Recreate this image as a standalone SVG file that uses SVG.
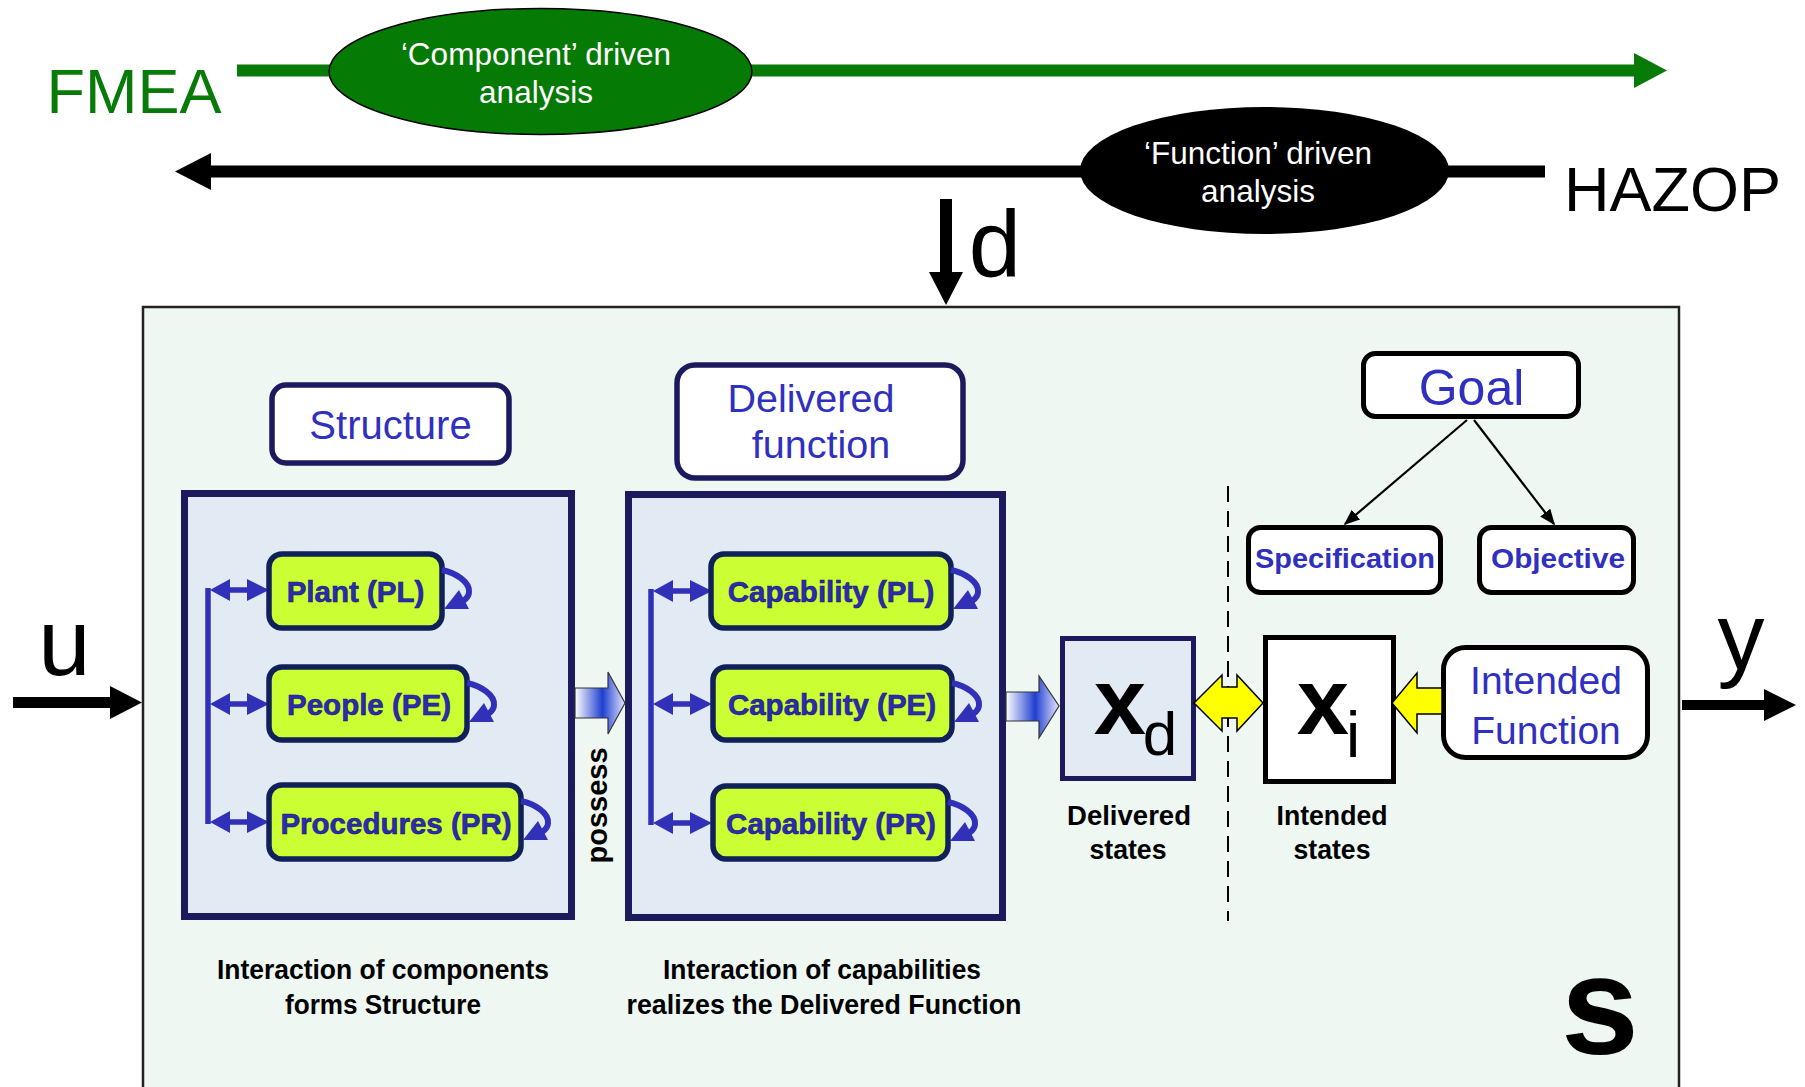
<svg xmlns="http://www.w3.org/2000/svg" xmlns:xlink="http://www.w3.org/1999/xlink" width="1805" height="1087" viewBox="0 0 1805 1087">
  <style>
    text { font-family: "Liberation Sans", Arial, sans-serif; }
    .big { font-size: 63px; }
    .ell { font-size: 31.5px; fill: #ffffff; text-anchor: middle; }
    .var { font-size: 94px; fill: #000; text-anchor: middle; }
    .panel { fill: #e2eaf3; stroke: #1b1a5c; stroke-width: 7; }
    .label { fill: #ffffff; stroke: #1b1a5c; stroke-width: 5.5; }
    .blk { fill: #ffffff; stroke: #000; stroke-width: 5; }
    .lbl { fill: #3030c0; text-anchor: middle; }
    .cmp { fill: #ccff33; stroke: #10205a; stroke-width: 5.5; }
    .cmpt { font-size: 29.5px; font-weight: bold; fill: #2b2bb0; stroke: #1a1a70; stroke-width: 0.6; text-anchor: middle; }
    .note { font-size: 28px; font-weight: bold; fill: #000; text-anchor: middle; }
    .brk { stroke: #3030b8; stroke-width: 5.5; fill: none; }
    .grad { fill: url(#blueFade); stroke: #333; stroke-width: 1.2; }
    .yel { fill: #ffff00; stroke: #000; stroke-width: 1.5; }
    .thin { stroke: #000; stroke-width: 2.2; fill: none; }
  </style>
  <defs>
    <linearGradient id="blueFade" x1="0" y1="0" x2="1" y2="0">
      <stop offset="0" stop-color="#ffffff"/>
      <stop offset="0.55" stop-color="#1f3fd0"/>
      <stop offset="1" stop-color="#e6e6ff"/>
    </linearGradient>
    <marker id="tipS" viewBox="0 0 10 10" refX="9" refY="5" markerWidth="16" markerHeight="16" orient="auto" markerUnits="userSpaceOnUse">
      <path d="M0 1 L10 5 L0 9 z" fill="#000"/>
    </marker>
    <!-- self-interaction loop, origin at a box's top-right corner -->
    <g id="loop">
      <path d="M0 16 C 14 19, 28 28, 27 38 C 27 42, 24 45, 21 47" stroke="#3030b8" stroke-width="6" fill="none"/>
      <polygon points="2,55 27,55 17,36" fill="#3030b8"/>
    </g>
    <!-- bracket double arrow, from x=0 (bracket) to x=59 -->
    <g id="dbl59">
      <line x1="8" y1="0" x2="50" y2="0" stroke="#3030b8" stroke-width="5.5"/>
      <polygon points="0,0 20,-11 20,11" fill="#3030b8"/>
      <polygon points="59,0 37,-11 37,11" fill="#3030b8"/>
    </g>
  </defs>

  <!-- analysis directions -->
  <g id="fmea">
    <line x1="237" y1="70.5" x2="1636" y2="70.5" stroke="#077a07" stroke-width="12"/>
    <polygon points="1634,53 1667,70.5 1634,88" fill="#077a07"/>
    <text class="big" x="134" y="113" fill="#077a07" text-anchor="middle">FMEA</text>
    <ellipse cx="540.5" cy="71.5" rx="211.5" ry="63" fill="#057a05" stroke="#000" stroke-width="1.5"/>
    <text class="ell" x="536" y="64.5">‘Component’ driven</text>
    <text class="ell" x="536" y="102.5">analysis</text>
  </g>
  <g id="hazop">
    <line x1="209" y1="171.5" x2="1545" y2="171.5" stroke="#000" stroke-width="12"/>
    <polygon points="211,153 175,171.5 211,190" fill="#000"/>
    <ellipse cx="1264.5" cy="170.5" rx="184.5" ry="63.5" fill="#000"/>
    <text class="ell" x="1258" y="163.5">‘Function’ driven</text>
    <text class="ell" x="1258" y="201.5">analysis</text>
    <text class="big" x="1564" y="211" fill="#000">HAZOP</text>
  </g>

  <!-- system boundary -->
  <g id="system">
    <rect x="143" y="307" width="1536" height="820" fill="#eef7f2" stroke="#222" stroke-width="2.5"/>
    <text x="1600" y="1054" font-size="140" font-weight="bold" text-anchor="middle">s</text>
  </g>

  <!-- inputs / outputs -->
  <g id="io">
    <line x1="946" y1="199" x2="946" y2="274" stroke="#000" stroke-width="12"/>
    <polygon points="929,272 963,272 946,305" fill="#000"/>
    <text class="var" x="995" y="277" font-size="92">d</text>
    <line x1="13" y1="702.5" x2="112" y2="702.5" stroke="#000" stroke-width="11"/>
    <polygon points="110,686 142,702.5 110,719" fill="#000"/>
    <text class="var" x="64.5" y="675">u</text>
    <line x1="1682" y1="705" x2="1766" y2="705" stroke="#000" stroke-width="10"/>
    <polygon points="1764,689 1796,705 1764,721" fill="#000"/>
    <text class="var" x="1741" y="669">y</text>
  </g>

  <!-- structure -->
  <g id="structure-label">
    <rect class="label" x="272" y="385" width="237" height="78" rx="14"/>
    <text class="lbl" x="390.5" y="439" font-size="40">Structure</text>
  </g>
  <g id="structure">
    <rect class="panel" x="184.5" y="493.5" width="387" height="423"/>
    <line class="brk" x1="208" y1="588" x2="208" y2="824"/>
    <use xlink:href="#dbl59" href="#dbl59" transform="translate(210,590)"/>
    <use xlink:href="#dbl59" href="#dbl59" transform="translate(210,704)"/>
    <use xlink:href="#dbl59" href="#dbl59" transform="translate(210,822)"/>
  </g>
  <g id="plant">
    <rect class="cmp" x="269" y="554" width="173" height="74" rx="13"/>
    <text class="cmpt" x="355.5" y="602">Plant (PL)</text>
    <use xlink:href="#loop" href="#loop" transform="translate(442,554)"/>
  </g>
  <g id="people">
    <rect class="cmp" x="269" y="667" width="198" height="73" rx="13"/>
    <text class="cmpt" x="369" y="714.5">People (PE)</text>
    <use xlink:href="#loop" href="#loop" transform="translate(467,667)"/>
  </g>
  <g id="procedures">
    <rect class="cmp" x="269" y="785" width="252" height="74" rx="13"/>
    <text class="cmpt" x="396" y="833.5">Procedures (PR)</text>
    <use xlink:href="#loop" href="#loop" transform="translate(521,785)"/>
  </g>

  <!-- delivered function -->
  <g id="function-label">
    <rect class="label" x="677" y="365" width="286" height="113" rx="18"/>
    <text class="lbl" x="811" y="412" font-size="39.5">Delivered</text>
    <text class="lbl" x="821" y="458" font-size="39.5">function</text>
  </g>
  <g id="delivered-function">
    <rect class="panel" x="628.5" y="494.5" width="374" height="423"/>
    <line class="brk" x1="651" y1="589" x2="651" y2="825"/>
    <use xlink:href="#dbl59" href="#dbl59" transform="translate(653,591)"/>
    <use xlink:href="#dbl59" href="#dbl59" transform="translate(653,704)"/>
    <use xlink:href="#dbl59" href="#dbl59" transform="translate(653,823)"/>
  </g>
  <g id="cap-pl">
    <rect class="cmp" x="711" y="554" width="240" height="74" rx="13"/>
    <text class="cmpt" x="831" y="602">Capability (PL)</text>
    <use xlink:href="#loop" href="#loop" transform="translate(951,554)"/>
  </g>
  <g id="cap-pe">
    <rect class="cmp" x="713" y="667" width="239" height="73" rx="13"/>
    <text class="cmpt" x="832" y="715">Capability (PE)</text>
    <use xlink:href="#loop" href="#loop" transform="translate(952,667)"/>
  </g>
  <g id="cap-pr">
    <rect class="cmp" x="713" y="786" width="235" height="73" rx="13"/>
    <text class="cmpt" x="831" y="834">Capability (PR)</text>
    <use xlink:href="#loop" href="#loop" transform="translate(948,786)"/>
  </g>

  <!-- states -->
  <g id="xd">
    <rect x="1062.5" y="638.5" width="131" height="140" fill="#e2eaf3" stroke="#1b1a5c" stroke-width="5"/>
    <text class="var" x="1120" y="734" font-weight="bold">x</text>
    <text x="1160" y="755" font-size="62" text-anchor="middle">d</text>
    <text class="note" x="1129" y="825" textLength="124" lengthAdjust="spacingAndGlyphs">Delivered</text>
    <text class="note" x="1128" y="859" textLength="77" lengthAdjust="spacingAndGlyphs">states</text>
  </g>
  <g id="xi">
    <rect class="blk" x="1265.5" y="637.5" width="128" height="144"/>
    <text class="var" x="1323" y="734" font-weight="bold">x</text>
    <text x="1353" y="757" font-size="64" text-anchor="middle">i</text>
    <text class="note" x="1332" y="825" textLength="111" lengthAdjust="spacingAndGlyphs">Intended</text>
    <text class="note" x="1332" y="859" textLength="77" lengthAdjust="spacingAndGlyphs">states</text>
  </g>
  <g id="intended-function">
    <rect class="blk" x="1443.5" y="647.5" width="204" height="110" rx="22"/>
    <text class="lbl" x="1546" y="693.5" font-size="39">Intended</text>
    <text class="lbl" x="1546" y="744" font-size="39">Function</text>
  </g>
  <g id="goal">
    <rect class="blk" x="1363.5" y="353.5" width="215" height="63" rx="12"/>
    <text class="lbl" x="1471.5" y="405" font-size="50">Goal</text>
  </g>
  <g id="specification">
    <rect class="blk" x="1248.5" y="527.5" width="192" height="65" rx="12"/>
    <text class="lbl" x="1345" y="568" font-size="28" font-weight="bold" textLength="180" lengthAdjust="spacingAndGlyphs">Specification</text>
  </g>
  <g id="objective">
    <rect class="blk" x="1479.5" y="527.5" width="154" height="65" rx="12"/>
    <text class="lbl" x="1558" y="568" font-size="28" font-weight="bold" textLength="134" lengthAdjust="spacingAndGlyphs">Objective</text>
  </g>

  <!-- captions -->
  <g id="captions">
    <text class="note" x="383" y="979" textLength="332" lengthAdjust="spacingAndGlyphs">Interaction of components</text>
    <text class="note" x="383" y="1014" textLength="196" lengthAdjust="spacingAndGlyphs">forms Structure</text>
    <text class="note" x="822" y="979" textLength="318" lengthAdjust="spacingAndGlyphs">Interaction of capabilities</text>
    <text class="note" x="824" y="1014" textLength="395" lengthAdjust="spacingAndGlyphs">realizes the Delivered Function</text>
  </g>

  <!-- connectors -->
  <g id="connectors">
    <line x1="1228" y1="486" x2="1228" y2="921" stroke="#000" stroke-width="2" stroke-dasharray="16 9"/>
    <line class="thin" x1="1467" y1="420" x2="1345" y2="524" marker-end="url(#tipS)"/>
    <line class="thin" x1="1474" y1="420" x2="1554" y2="524" marker-end="url(#tipS)"/>
    <polygon class="grad" points="575,688 608,688 608,672 625,703 608,734 608,718 575,718"/>
    <text x="607" y="805.5" font-size="29" font-weight="bold" text-anchor="middle" transform="rotate(-90 607 805.5)">possess</text>
    <polygon class="grad" points="1006,692 1039,692 1039,676 1059,706 1039,738 1039,721 1006,721"/>
    <polygon class="yel" points="1194,703 1222,675 1222,687 1237,687 1237,675 1263,703 1237,731 1237,718 1222,718 1222,731"/>
    <polygon class="yel" points="1392,703 1417,673 1417,688 1442,688 1442,714 1417,714 1417,733"/>
  </g>
</svg>
